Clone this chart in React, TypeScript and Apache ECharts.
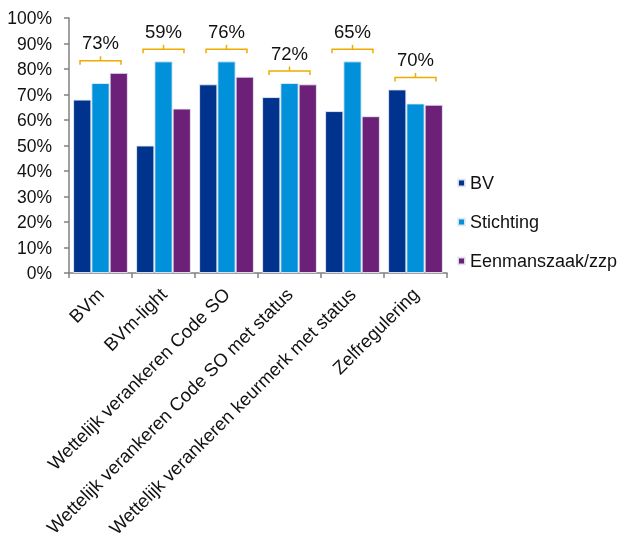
import React, { useEffect, useRef } from "react";
import * as echarts from "echarts";

const categories = [
  "BVm",
  "BVm-light",
  "Wettelijk verankeren Code SO",
  "Wettelijk verankeren Code SO met status",
  "Wettelijk verankeren keurmerk met status",
  "Zelfregulering",
];
const bv = [68, 50, 74, 69, 63.5, 72];
const stichting = [74.5, 83, 83, 74.5, 83, 66.5];
const eenmanszaak = [78.5, 64.5, 77, 74, 61.5, 66];
const totals = ["73%", "59%", "76%", "72%", "65%", "70%"];
const yTicks = [0, 10, 20, 30, 40, 50, 60, 70, 80, 90, 100];

const FONT = "'Liberation Sans', Arial, sans-serif";

export default function App() {
  const ref = useRef<HTMLDivElement>(null);
  useEffect(() => {
    if (!ref.current) return;
    const chart = echarts.init(ref.current, null, { renderer: "svg" });
    const bracketData = categories.map((_, i) => [
      i,
      Math.max(bv[i], stichting[i], eenmanszaak[i]),
    ]);
    const bracketColor = "#F0AB00";
    chart.setOption({
      animation: false,
      textStyle: { fontFamily: FONT },
      grid: {
        left: 69,
        right: 176,
        top: 18,
        bottom: 262,
        containLabel: false,
        outerBoundsMode: "none",
      },
      legend: {
        orient: "vertical",
        left: 457,
        top: 174,
        padding: 0,
        icon: "rect",
        itemWidth: 7,
        itemHeight: 7,
        itemGap: 21,
        textStyle: { fontSize: 18, color: "#111", fontFamily: FONT },
        data: ["BV", "Stichting", "Eenmanszaak/zzp"],
      },
      xAxis: {
        type: "category",
        data: categories,
        axisLine: { lineStyle: { color: "#808080", width: 1.5 } },
        axisTick: { show: true, length: 5, lineStyle: { color: "#808080", width: 1.5 } },
        axisLabel: {
          interval: 0,
          rotate: 45,
          fontSize: 18.5,
          color: "#111",
          margin: 18,
          fontFamily: FONT,
        },
      },
      yAxis: {
        type: "value",
        min: 0,
        max: 100,
        interval: 10,
        splitLine: { show: false },
        axisLine: { show: true, lineStyle: { color: "#808080", width: 1.5 } },
        axisTick: { show: true, length: 5, lineStyle: { color: "#808080", width: 1.5 } },
        axisLabel: {
          fontSize: 17.5,
          color: "#111",
          margin: 17,
          fontFamily: FONT,
          formatter: (v: number) => (yTicks.includes(v) ? v + "%" : ""),
        },
      },
      series: [
        {
          name: "BV",
          type: "bar",
          data: bv,
          barGap: "0%",
          barCategoryGap: "13%",
          itemStyle: { color: "#00338D", borderColor: "rgba(230,235,245,0.9)", borderWidth: 1 },
        },
        {
          name: "Stichting",
          type: "bar",
          data: stichting,
          barGap: "0%",
          barCategoryGap: "13%",
          itemStyle: { color: "#0091DA", borderColor: "rgba(230,235,245,0.9)", borderWidth: 1 },
        },
        {
          name: "Eenmanszaak/zzp",
          type: "bar",
          data: eenmanszaak,
          barGap: "0%",
          barCategoryGap: "13%",
          itemStyle: { color: "#6D2077", borderColor: "rgba(230,235,245,0.9)", borderWidth: 1 },
        },
        {
          name: "totals",
          type: "custom",
          clip: false,
          data: bracketData,
          renderItem: (params: any, api: any) => {
            const idx = api.value(0);
            const val = api.value(1);
            const pt = api.coord([idx, val]);
            const w = api.size([1, 0])[0];
            const half = w * 0.325;
            const cx = pt[0];
            const y = pt[1] - 12;
            return {
              type: "group",
              children: [
                {
                  type: "polyline",
                  shape: {
                    points: [
                      [cx - half, y + 4],
                      [cx - half, y],
                      [cx + half, y],
                      [cx + half, y + 4],
                    ],
                  },
                  style: { stroke: bracketColor, lineWidth: 1.5, fill: "none" },
                },
                {
                  type: "line",
                  shape: { x1: cx, y1: y, x2: cx, y2: y - 4.5 },
                  style: { stroke: bracketColor, lineWidth: 1.5 },
                },
                {
                  type: "text",
                  x: cx,
                  y: y - 18,
                  style: {
                    text: totals[params.dataIndex],
                    fontSize: 18.5,
                    fontFamily: FONT,
                    fill: "#111",
                    align: "center",
                    verticalAlign: "middle",
                  },
                },
              ],
            };
          },
        },
      ],
    });
    return () => chart.dispose();
  }, []);
  return (
    <div style={{ position: "fixed", left: 0, top: 0, width: 623, height: 535, overflow: "hidden" }}>
      <div ref={ref} style={{ width: 623, height: 535 }} />
    </div>
  );
}
